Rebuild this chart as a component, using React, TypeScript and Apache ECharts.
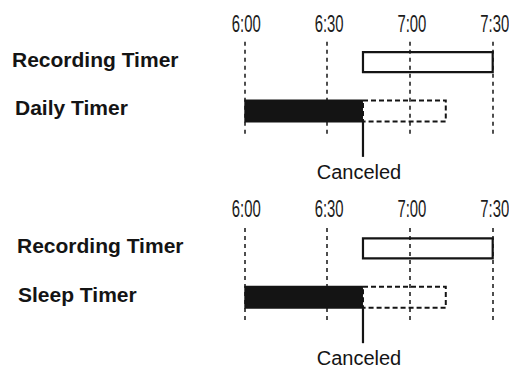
import React, { useEffect, useRef } from "react";
import * as echarts from "echarts";

// Time axis: minutes after 6:00
const timeTicks = ["6:00", "6:30", "7:00", "7:30"];
const tickStep = 30;
const axisMax = 90;

// Row names per panel
const panel1Rows = ["Recording Timer", "Daily Timer"];
const panel2Rows = ["Recording Timer", "Sleep Timer"];

// Spans [start, end] in minutes after 6:00
const recordingSpan = [43, 90];
const timerRunSpan = [0, 43];
const timerPlannedSpan = [43, 73];
const cancelAt = 43;
const cancelLabel = "Canceled";

// kinds: 0 outlined bar, 1 filled bar, 2 dashed bar, 3 cancel marker, 4 row label, 5 tick label
function buildData(rows: string[]) {
  const ticks = timeTicks.map((t, i) => [0, i * tickStep, i * tickStep, 5, t]);
  return [
    [0, recordingSpan[0], recordingSpan[1], 0, rows[0]],
    [1, timerPlannedSpan[0], timerPlannedSpan[1], 2, ""],
    [1, timerRunSpan[0], timerRunSpan[1], 1, ""],
    [1, cancelAt, cancelAt, 3, cancelLabel],
    [0, 0, 0, 4, rows[0]],
    [1, 0, 0, 4, rows[1]],
    ...ticks,
  ];
}

const labelXs = [
  [12, 15],
  [17, 18],
];
const tickLabelDy = [18.4, 19.7];

const INK = "#141414";
const SANS = "'Liberation Sans', Arial, Helvetica, sans-serif";

function makeRender(panel: number) {
  return (params: any, api: any) => {
    const row = api.value(0);
    const s = api.value(1);
    const e = api.value(2);
    const kind = api.value(3);
    const p0 = api.coord([s, row]);
    const p1 = api.coord([e, row]);
    if (kind === 0) {
      return {
        type: "rect",
        shape: { x: p0[0], y: p0[1] - 10, width: p1[0] - p0[0], height: 20 },
        style: { fill: "rgba(255,255,255,0)", stroke: INK, lineWidth: 2.2 },
      };
    }
    if (kind === 1) {
      return {
        type: "rect",
        shape: { x: p0[0], y: p0[1] - 11.5, width: p1[0] - p0[0], height: 23 },
        style: { fill: INK, stroke: null },
      };
    }
    if (kind === 2) {
      return {
        type: "rect",
        shape: { x: p0[0], y: p0[1] - 10.5, width: p1[0] - p0[0], height: 21 },
        style: { fill: "rgba(255,255,255,0)", stroke: INK, lineWidth: 2, lineDash: [5, 3] },
      };
    }
    if (kind === 3) {
      return {
        type: "group",
        children: [
          {
            type: "line",
            shape: { x1: p0[0], y1: p0[1] + 11, x2: p0[0], y2: p0[1] + 46 },
            style: { stroke: INK, lineWidth: 2.2 },
          },
          {
            type: "text",
            style: {
              x: p0[0] - 4,
              y: p0[1] + 61,
              text: api.value(4),
              align: "center",
              verticalAlign: "middle",
              fill: INK,
              fontSize: 20,
              fontFamily: SANS,
            },
          },
        ],
      };
    }
    if (kind === 5) {
      const cx = p0[0] + 2;
      const cy = params.coordSys.y - tickLabelDy[panel];
      return {
        type: "text",
        x: cx,
        y: cy,
        scaleX: 0.62,
        style: {
          x: 0,
          y: 0,
          text: api.value(4),
          align: "center",
          verticalAlign: "middle",
          fill: "#1c1c1c",
          fontSize: 24,
          fontFamily: SANS,
        },
      };
    }
    // row label
    return {
      type: "text",
      style: {
        x: labelXs[panel][row],
        y: p0[1] - 3,
        text: api.value(4),
        align: "left",
        verticalAlign: "middle",
        fill: INK,
        fontSize: 21,
        fontWeight: "bold",
        fontFamily: SANS,
      },
    };
  };
}

export default function App() {
  const ref = useRef<HTMLDivElement>(null);
  useEffect(() => {
    if (!ref.current) return;
    const chart = echarts.init(ref.current, null, { renderer: "svg" });
    const gridTops = [41.7, 228];
    const xAxis = [0, 1].map((i) => ({
      type: "value",
      gridIndex: i,
      position: "top",
      min: 0,
      max: axisMax,
      interval: tickStep,
      axisLine: { show: false },
      axisTick: { show: false },
      axisLabel: { show: false },
      splitLine: {
        show: true,
        lineStyle: { color: INK, width: 1.5, type: [4, 4] },
      },
    }));
    const yAxis = [0, 1].map((i) => ({
      type: "value",
      gridIndex: i,
      inverse: true,
      min: -0.42,
      max: 1.53,
      show: false,
      splitLine: { show: false },
    }));
    chart.setOption({
      animation: false,
      backgroundColor: "#fff",
      grid: gridTops.map((t) => ({
        left: 244.3,
        width: 248.4,
        top: t,
        height: 95,
        containLabel: false,
        outerBoundsMode: "none",
      })),
      xAxis,
      yAxis,
      series: [
        {
          type: "custom",
          xAxisIndex: 0,
          yAxisIndex: 0,
          clip: false,
          z: 3,
          renderItem: makeRender(0),
          encode: { x: [1, 2], y: 0 },
          data: buildData(panel1Rows),
        },
        {
          type: "custom",
          xAxisIndex: 1,
          yAxisIndex: 1,
          clip: false,
          z: 3,
          renderItem: makeRender(1),
          encode: { x: [1, 2], y: 0 },
          data: buildData(panel2Rows),
        },
      ],
    });
    return () => chart.dispose();
  }, []);
  return (
    <div
      ref={ref}
      style={{ position: "fixed", left: 0, top: 0, width: 509, height: 370, background: "#fff" }}
    />
  );
}
